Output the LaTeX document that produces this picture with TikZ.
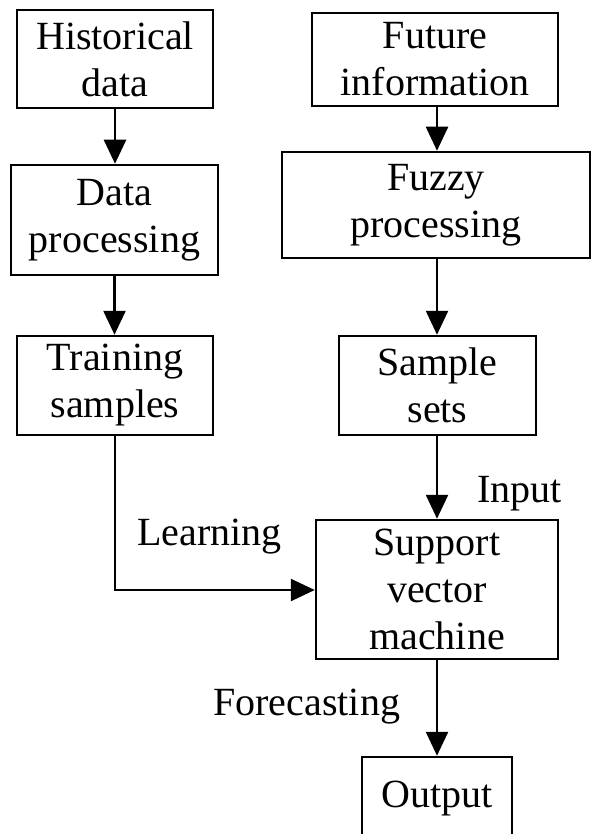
\documentclass[tikz,border=0pt]{standalone}
\usepackage{fontspec}
\setmainfont{Liberation Serif}
\usetikzlibrary{arrows.meta}
\begin{document}
\begin{tikzpicture}[x=0.5pt,y=-0.5pt,
  box/.style={draw=black, line width=1.25pt, inner sep=0pt, align=center,
    font=\fontsize{20}{23.5}\selectfont},
  lbl/.style={inner sep=0pt, anchor=base west, font=\fontsize{20}{23.5}\selectfont},
  flow/.style={line width=1.25pt, draw=black, -{Triangle[width=11pt,length=12pt]}}]
\useasboundingbox (0,0) rectangle (592,834);
\clip (0,0) rectangle (592,834);

% left column
\node[box, minimum width=98pt, minimum height=49pt] (hist) at (115,59) {Historical\\data};
\node[box, minimum width=103.5pt, minimum height=55pt] (dproc) at (114.5,220) {Data\\processing};
\node[box, minimum width=98pt, minimum height=49.5pt] (train) at (115,385.5) {Training\\samples};

% right column
\node[box, minimum width=123pt, minimum height=46.5pt] (future) at (435,59.5) {Future\\information};
\node[box, minimum width=154pt, minimum height=53pt] (fuzzy) at (436,205) {Fuzzy\\processing};
\node[box, minimum width=98.5pt, minimum height=49.5pt] (sample) at (437.5,385.5) {Sample\\sets};
\node[box, minimum width=121pt, minimum height=69.5pt] (svm) at (437,589.5) {Support\\vector\\machine};
\node[box, minimum width=75pt, minimum height=41.5pt] (out) at (437,798.5) {Output};

% connector labels
\node[lbl] (learn) at (137,545) {Learning};
\node[lbl] (inp) at (477,502) {Input};
\node[lbl] (fore) at (213,715) {Forecasting};

% connectors
\draw[flow] (hist.south) -- (hist.south |- dproc.north);
\draw[flow] (dproc.south) -- (dproc.south |- train.north);
\draw[flow] (svm.north |- future.south) -- (svm.north |- fuzzy.north);
\draw[flow] (svm.north |- fuzzy.south) -- (svm.north |- sample.north);
\draw[flow] (svm.north |- sample.south) -- (svm.north);
\coordinate (bend) at (115,590);
\draw[flow] (train.south) -- (bend) -- (bend -| svm.west);
\draw[flow] (svm.south) -- (out.north);
\end{tikzpicture}
\end{document}
